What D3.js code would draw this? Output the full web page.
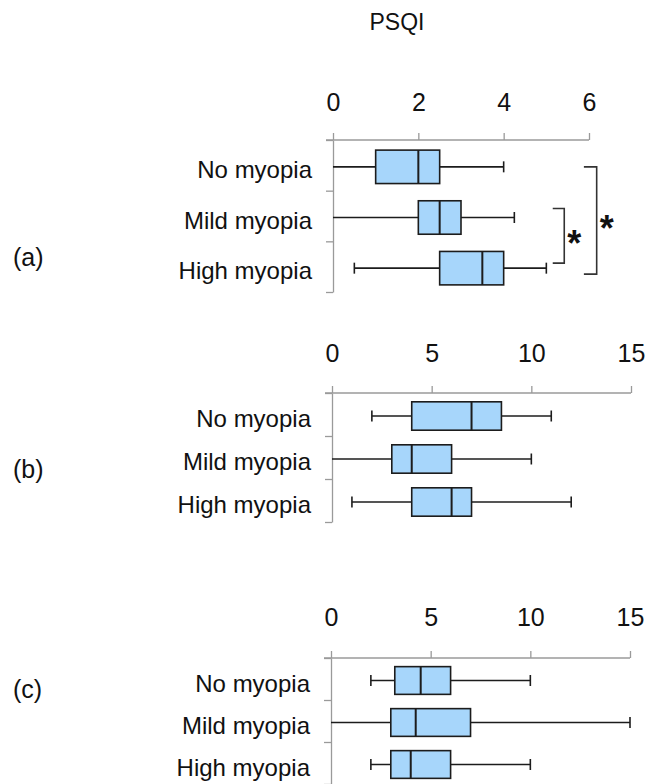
<!DOCTYPE html>
<html>
<head>
<meta charset="utf-8">
<script src="https://cdn.jsdelivr.net/npm/d3@7"></script>
<style>
  body { margin: 0; background: #fff; }
  svg { display: block; font-family: "Liberation Sans", Arial, sans-serif; }
</style>
</head>
<body>
<svg width="646" height="784"></svg>
<script>
// values
const categories = ["No myopia", "Mild myopia", "High myopia"];
const panelLabels = ["(a)", "(b)", "(c)"];
const xMax = [6, 15, 15];
const xTicks = [[0, 2, 4, 6], [0, 5, 10, 15], [0, 5, 10, 15]];
const whiskerLow  = [[0, 0, 0.5], [2, 0, 1], [2, 0, 2]];
const q1          = [[1, 2, 2.5], [4, 3, 4], [3.2, 3, 3]];
const median      = [[2, 2.5, 3.5], [7, 4, 6], [4.5, 4.25, 4]];
const q3          = [[2.5, 3, 4], [8.5, 6, 7], [6, 7, 6]];
const whiskerHigh = [[4, 4.25, 5], [11, 10, 12], [10, 15, 10]];
// significance in panel (a)
const sigPairs = [["Mild myopia", "High myopia"], ["No myopia", "High myopia"]];
const sigMark = "*";

// layout
const panels = [
  {top: 140, bottom: 292, x0: 333, x1: 589, tickY: 102, labelY: 266},
  {top: 393, bottom: 522, x0: 332, x1: 631, tickY: 353, labelY: 478},
  {top: 658, bottom: 784, x0: 331, x1: 630, tickY: 617, labelY: 698}
];
const axisColor = "#9a9a9a";
const boxFill = "#a7d6fb";
const ink = "#1c1c1c";

const svg = d3.select("svg");

svg.append("text")
  .attr("x", 397).attr("y", 30)
  .attr("text-anchor", "middle")
  .attr("font-size", 23)
  .attr("fill", "#111")
  .text("PSQI");

panels.forEach((p, i) => {
  let g = svg.append("g");
  let x = d3.scaleLinear().domain([0, xMax[i]]).range([p.x0, p.x1]);
  let yb = d3.scaleBand().domain(categories).range([p.top + 1.5, p.bottom + 1.5]);
  let yl = d3.scaleLinear().domain([0, 3]).range([p.top, p.bottom]);

  // top value axis
  let pad = (p.top - (p.tickY + 9)) - 7;
  let xa = g.append("g")
    .attr("transform", `translate(0,${p.top})`)
    .call(d3.axisTop(x).tickValues(xTicks[i]).tickFormat(d3.format("d"))
      .tickSize(7).tickSizeOuter(0).tickPadding(pad));
  xa.select(".domain").remove();
  xa.selectAll("line").attr("stroke", axisColor).attr("stroke-width", 1.3);
  xa.selectAll("text").attr("font-size", 25).attr("fill", "#111")
    .attr("font-family", "Liberation Sans, Arial, sans-serif");
  g.append("line")
    .attr("x1", p.x0 - 7).attr("x2", p.x1)
    .attr("y1", p.top).attr("y2", p.top)
    .attr("stroke", axisColor).attr("stroke-width", 1.3);

  // left category axis
  let ya = g.append("g")
    .attr("transform", `translate(${p.x0},0)`)
    .call(d3.axisLeft(yl).tickValues([0, 1, 2, 3]).tickSize(7).tickSizeOuter(0).tickFormat(""));
  ya.selectAll("path, line").attr("stroke", axisColor).attr("stroke-width", 1.3);

  // category labels
  g.selectAll(".cat").data(categories).enter().append("text")
    .attr("x", p.x0 - 21)
    .attr("y", d => yb(d) + yb.bandwidth() / 2 + 11)
    .attr("text-anchor", "end")
    .attr("font-size", 24)
    .attr("fill", "#111")
    .text(d => d);

  // boxes
  let rows = categories.map((c, j) => ({
    cat: c, lo: whiskerLow[i][j], q1: q1[i][j], med: median[i][j], q3: q3[i][j], hi: whiskerHigh[i][j]
  }));
  let bh = yb.bandwidth() * 0.66;
  let cy = d => yb(d.cat) + yb.bandwidth() / 2;
  let cap = 11;

  let row = g.selectAll(".row").data(rows).enter().append("g");
  row.append("line")
    .attr("x1", d => x(d.lo)).attr("x2", d => x(d.hi))
    .attr("y1", cy).attr("y2", cy)
    .attr("stroke", ink).attr("stroke-width", 1.6);
  row.filter(d => d.lo > 0).append("line")
    .attr("x1", d => x(d.lo)).attr("x2", d => x(d.lo))
    .attr("y1", d => cy(d) - cap / 2).attr("y2", d => cy(d) + cap / 2)
    .attr("stroke", ink).attr("stroke-width", 1.6);
  row.append("line")
    .attr("x1", d => x(d.hi)).attr("x2", d => x(d.hi))
    .attr("y1", d => cy(d) - cap / 2).attr("y2", d => cy(d) + cap / 2)
    .attr("stroke", ink).attr("stroke-width", 1.6);
  row.append("rect")
    .attr("x", d => x(d.q1)).attr("width", d => x(d.q3) - x(d.q1))
    .attr("y", d => cy(d) - bh / 2).attr("height", bh)
    .attr("fill", boxFill).attr("stroke", ink).attr("stroke-width", 1.6);
  row.append("line")
    .attr("x1", d => x(d.med)).attr("x2", d => x(d.med))
    .attr("y1", d => cy(d) - bh / 2).attr("y2", d => cy(d) + bh / 2)
    .attr("stroke", ink).attr("stroke-width", 2);

  // panel label
  svg.append("text")
    .attr("x", 13).attr("y", p.labelY)
    .attr("font-size", 25)
    .attr("fill", "#111")
    .text(panelLabels[i]);

  if (i === 0) {
    // brackets: [arm start, vertical x] in data units, offsets in px
    let br = [
      {xs: 5.15, xv: 5.42, dTop: -9, dBot: -5},
      {xs: 5.88, xv: 6.18, dTop: 0, dBot: 6}
    ];
    sigPairs.forEach((pair, k) => {
      let b = br[k];
      let yt = yb(pair[0]) + yb.bandwidth() / 2 + b.dTop;
      let ybot = yb(pair[1]) + yb.bandwidth() / 2 + b.dBot;
      g.append("path")
        .attr("d", `M${x(b.xs)},${yt}H${x(b.xv)}V${ybot}H${x(b.xs)}`)
        .attr("fill", "none").attr("stroke", "#333").attr("stroke-width", 1.6);
      g.append("text")
        .attr("x", x(b.xv) + 10).attr("y", (yt + ybot) / 2 + 20)
        .attr("text-anchor", "middle")
        .attr("font-size", 36)
        .attr("font-weight", "bold")
        .attr("fill", "#111")
        .text(sigMark);
    });
  }
});
</script>
</body>
</html>
